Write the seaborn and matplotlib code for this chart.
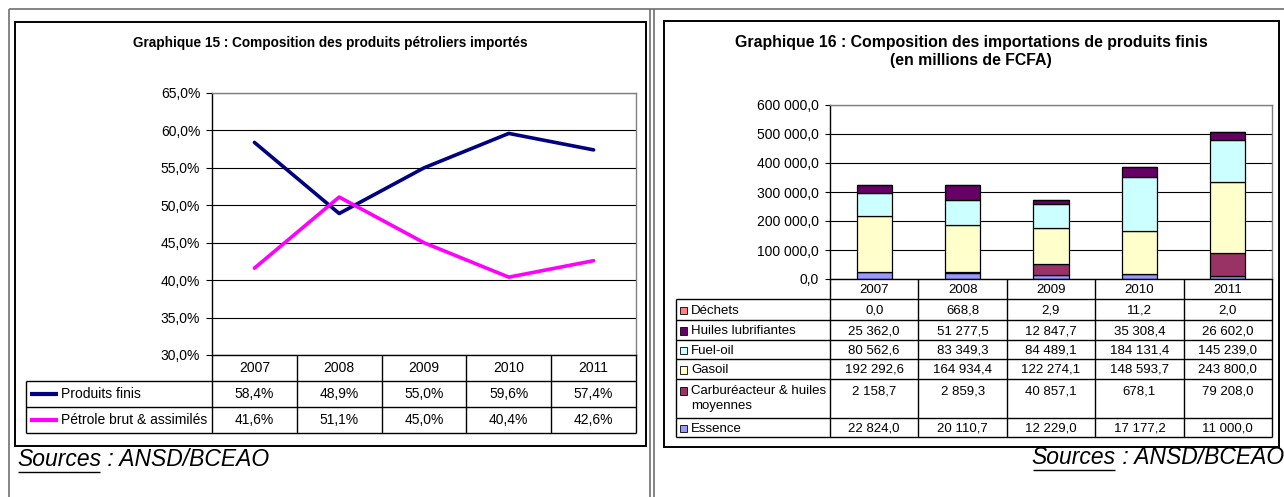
"""Graphiques 15 et 16 : composition des produits petroliers importes (Senegal, 2007-2011)."""

import numpy as np
import pandas as pd
import matplotlib
matplotlib.use("Agg")
import matplotlib.pyplot as plt
from matplotlib.patches import Rectangle
from matplotlib.ticker import FuncFormatter
import seaborn as sns

# --- donnees -------------------------------------------------------------
ANNEES = [2007, 2008, 2009, 2010, 2011]

# Graphique 15 (parts en %)
SERIES_15 = ["Produits finis", "Pétrole brut & assimilés"]
PRODUITS_FINIS = [58.4, 48.9, 55.0, 59.6, 57.4]
PETROLE_BRUT = [41.6, 51.1, 45.0, 40.4, 42.6]
COULEURS_15 = ["#000080", "#FF00FF"]
YTICKS_15 = [30, 35, 40, 45, 50, 55, 60, 65]

# Graphique 16 (millions de FCFA), ordre du tableau (haut -> bas)
PRODUITS_16 = ["Déchets", "Huiles lubrifiantes", "Fuel-oil", "Gasoil",
               "Carburéacteur & huiles moyennes", "Essence"]
DECHETS = [0.0, 668.8, 2.9, 11.2, 2.0]
HUILES = [25362.0, 51277.5, 12847.7, 35308.4, 26602.0]
FUEL_OIL = [80562.6, 83349.3, 84489.1, 184131.4, 145239.0]
GASOIL = [192292.6, 164934.4, 122274.1, 148593.7, 243800.0]
CARBUREACTEUR = [2158.7, 2859.3, 40857.1, 678.1, 79208.0]
ESSENCE = [22824.0, 20110.7, 12229.0, 17177.2, 11000.0]
COULEURS_16 = ["#FF8080", "#660066", "#CCFFFF", "#FFFFCC", "#993366", "#9999FF"]
YTICKS_16 = [0, 100000, 200000, 300000, 400000, 500000, 600000]

W, H = 1284, 497


def fr(v, d=1):
    s = f"{v:,.{d}f}"
    return s.replace(",", " ").replace(".", ",")


def px_axes(fig, x0, y0, x1, y1):
    return fig.add_axes([x0 / W, 1 - y1 / H, (x1 - x0) / W, (y1 - y0) / H])


def style_axes(ax):
    for s in ["top", "right"]:
        ax.spines[s].set_color("#808080")
        ax.spines[s].set_linewidth(1.0)
    for s in ["left", "bottom"]:
        ax.spines[s].set_color("black")
        ax.spines[s].set_linewidth(1.0)
    ax.yaxis.grid(True, color="black", linewidth=0.8)
    ax.xaxis.grid(False)
    ax.set_axisbelow(True)
    ax.set_xlabel("")
    ax.set_ylabel("")
    ax.set_xticks([])
    ax.set_xlim(ANNEES[0] - 0.5, ANNEES[-1] + 0.5)


sns.set_style("white")
plt.rcParams["font.family"] = ["Liberation Sans", "DejaVu Sans"]
plt.rcParams["text.color"] = "black"
plt.rcParams["xtick.color"] = "black"
plt.rcParams["ytick.color"] = "black"
plt.rcParams["axes.labelcolor"] = "black"

fig = plt.figure(figsize=(W / 100, H / 100), dpi=100)
ov = fig.add_axes([0, 0, 1, 1], zorder=-1)
ov.set_xlim(0, W)
ov.set_ylim(H, 0)
ov.axis("off")


def hline(y, x0, x1, **kw):
    ov.plot([x0, x1], [y, y], solid_capstyle="butt", **kw)


def vline(x, y0, y1, **kw):
    ov.plot([x, x], [y0, y1], solid_capstyle="butt", **kw)


# cadres de page
page = dict(color="#707070", linewidth=1.2)
hline(9, 9, W, **page)
vline(9, 9, H, **page)
vline(650, 9, H, **page)
vline(653.5, 9, H, **page)
ov.add_patch(Rectangle((15, 22), 631, 424, fill=False, edgecolor="black", linewidth=1.4))
ov.add_patch(Rectangle((664, 21), 615, 426, fill=False, edgecolor="black", linewidth=1.4))

# --- Graphique 15 ----------------------------------------------------------
df15 = pd.DataFrame({
    "annee": ANNEES * 2,
    "part": PRODUITS_FINIS + PETROLE_BRUT,
    "serie": [SERIES_15[0]] * 5 + [SERIES_15[1]] * 5,
})
ax1 = px_axes(fig, 212, 93, 636, 355)
sns.lineplot(data=df15, x="annee", y="part", hue="serie", hue_order=SERIES_15,
             palette=COULEURS_15, linewidth=2.6, legend=False, ax=ax1)
style_axes(ax1)
ax1.set_ylim(30, 65)
ax1.set_yticks(YTICKS_15)
ax1.yaxis.set_major_formatter(FuncFormatter(lambda v, p: fr(v) + "%"))
ax1.tick_params(axis="y", left=True, length=4, width=0.8, pad=4.5,
                labelsize=10, color="black")

ov.text(330.5, 43, "Graphique 15 : Composition des produits pétroliers importés",
        ha="center", va="center", fontsize=9.8, fontweight="bold")

# tableau 15
col15 = np.linspace(212, 636, 6)
rows15 = [355, 381, 407, 433]
tl = dict(color="black", linewidth=1.0)
for y in rows15[1:]:
    hline(y, 26, 636, **tl)
vline(26, 381, 433, **tl)
for x in col15:
    vline(x, 355, 433, **tl)
for i, an in enumerate(ANNEES):
    xc = (col15[i] + col15[i + 1]) / 2
    ov.text(xc, 368, str(an), ha="center", va="center", fontsize=10)
for r, (nom, vals, c) in enumerate(zip(SERIES_15, [PRODUITS_FINIS, PETROLE_BRUT], COULEURS_15)):
    yc = (rows15[r + 1] + rows15[r + 2]) / 2
    hline(yc, 30, 58, color=c, linewidth=3)
    ov.text(61, yc, nom, ha="left", va="center", fontsize=10)
    for i, v in enumerate(vals):
        xc = (col15[i] + col15[i + 1]) / 2
        ov.text(xc, yc, fr(v) + "%", ha="center", va="center", fontsize=10)

# --- Graphique 16 ----------------------------------------------------------
valeurs16 = [DECHETS, HUILES, FUEL_OIL, GASOIL, CARBUREACTEUR, ESSENCE]
df16 = pd.DataFrame({
    "annee": ANNEES * len(PRODUITS_16),
    "valeur": sum(valeurs16, []),
    "produit": [p for p in PRODUITS_16 for _ in ANNEES],
})
ax2 = px_axes(fig, 830, 105, 1272, 279)
sns.histplot(data=df16, x="annee", weights="valeur", hue="produit",
             hue_order=PRODUITS_16, palette=COULEURS_16, multiple="stack",
             discrete=True, shrink=0.4, alpha=1, edgecolor="black",
             linewidth=0.9, legend=False, ax=ax2)
style_axes(ax2)
ax2.set_ylim(0, 600000)
ax2.set_yticks(YTICKS_16)
ax2.yaxis.set_major_formatter(FuncFormatter(lambda v, p: fr(v)))
ax2.tick_params(axis="y", left=True, length=3.5, width=0.8, pad=4.5,
                labelsize=10, color="black")

ov.text(971, 43, "Graphique 16 : Composition des importations de produits finis",
        ha="center", va="center", fontsize=11.4, fontweight="bold")
ov.text(971, 60, "(en millions de FCFA)", ha="center", va="center",
        fontsize=11.4, fontweight="bold")

# tableau 16
col16 = np.linspace(830, 1272, 6)
rows16 = [279, 299, 320, 340, 359, 379, 418, 437]
for y in rows16[1:]:
    hline(y, 676, 1272, **tl)
vline(676, 299, 437, **tl)
for x in col16:
    vline(x, 279, 437, **tl)
for i, an in enumerate(ANNEES):
    xc = (col16[i] + col16[i + 1]) / 2
    ov.text(xc, 290, str(an), ha="center", va="center", fontsize=9.5)
for r, (nom, vals, c) in enumerate(zip(PRODUITS_16, valeurs16, COULEURS_16)):
    y0, y1 = rows16[r + 1], rows16[r + 2]
    yc = (y0 + y1) / 2 + 1 if y1 - y0 < 30 else y0 + 12
    ov.add_patch(Rectangle((679.5, yc - 3.8), 7.5, 7.5, facecolor=c,
                           edgecolor="black", linewidth=0.6))
    if nom.startswith("Carbur"):
        ov.text(691, yc, "Carburéacteur & huiles", ha="left", va="center", fontsize=9.5)
        ov.text(691, yc + 15, "moyennes", ha="left", va="center", fontsize=9.5)
    else:
        ov.text(691, yc, nom, ha="left", va="center", fontsize=9.5)
    for i, v in enumerate(vals):
        xc = (col16[i] + col16[i + 1]) / 2
        ov.text(xc, yc, fr(v), ha="center", va="center", fontsize=9.5)

# --- sources ---------------------------------------------------------------
fig.canvas.draw()
rend = fig.canvas.get_renderer()
FS_SRC = 16.5


def underline(t):
    bb = t.get_window_extent(renderer=rend)
    hline(H - bb.y0 + 1, bb.x0 + 1, bb.x1 - 1, color="black", linewidth=1.0)


s1 = ov.text(17, 466, "Sources", ha="left", va="baseline", fontsize=FS_SRC, style="italic")
fig.canvas.draw()
bb = s1.get_window_extent(renderer=rend)
ov.text(bb.x1, 466, " : ANSD/BCEAO", ha="left", va="baseline", fontsize=FS_SRC, style="italic")
underline(s1)

s2 = ov.text(1284, 464, " : ANSD/BCEAO", ha="right", va="baseline", fontsize=FS_SRC, style="italic")
fig.canvas.draw()
bb = s2.get_window_extent(renderer=rend)
s3 = ov.text(bb.x0, 464, "Sources", ha="right", va="baseline", fontsize=FS_SRC, style="italic")
fig.canvas.draw()
underline(s3)

fig.savefig("out.png", dpi=100)
